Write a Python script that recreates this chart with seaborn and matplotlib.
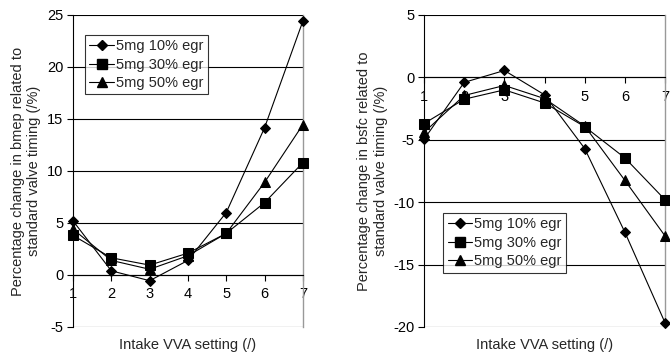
import matplotlib
matplotlib.use("Agg")
import matplotlib.pyplot as plt
import seaborn as sns
import pandas as pd
from matplotlib.lines import Line2D

sns.set_style("white")
plt.rcParams['font.family'] = ['Liberation Sans', 'DejaVu Sans']
plt.rcParams['axes.unicode_minus'] = False

settings = [1, 2, 3, 4, 5, 6, 7]
series_names = ["5mg 10% egr", "5mg 30% egr", "5mg 50% egr"]

bmep_10 = [5.2, 0.4, -0.55, 1.4, 6.0, 14.15, 24.4]
bmep_30 = [3.8, 1.65, 0.95, 2.1, 4.0, 6.95, 10.8]
bmep_50 = [4.4, 1.4, 0.55, 1.85, 4.0, 8.9, 14.45]

bsfc_10 = [-4.95, -0.4, 0.55, -1.4, -5.7, -12.4, -19.65]
bsfc_30 = [-3.7, -1.75, -1.0, -2.05, -3.95, -6.45, -9.8]
bsfc_50 = [-4.4, -1.45, -0.65, -1.7, -3.9, -8.25, -12.7]

ylabels = ["Percentage change in bmep related to\nstandard valve timing (/%)",
           "Percentage change in bsfc related to\nstandard valve timing (/%)"]
xlabel = "Intake VVA setting (/)"

def make_df(vals):
    rows = []
    for name, v in zip(series_names, vals):
        for s, y in zip(settings, v):
            rows.append({"setting": s, "value": y, "series": name})
    return pd.DataFrame(rows)

markers = {series_names[0]: "D", series_names[1]: "s", series_names[2]: "^"}
msizes = {series_names[0]: 5.5, series_names[1]: 7, series_names[2]: 7}

fig = plt.figure(figsize=(6.7, 3.56), dpi=100)
ax1 = fig.add_axes([0.109, 0.0815, 0.343, 0.8765])
ax2 = fig.add_axes([0.633, 0.0815, 0.3595, 0.8765])

FS = 10.5

def draw(ax, vals, ylim, yticks, ylabel, leg_anchor):
    df = make_df(vals)
    for name in series_names:
        sub = df[df.series == name]
        sns.lineplot(data=sub, x="setting", y="value", ax=ax, color="black",
                     marker=markers[name], markersize=msizes[name],
                     markeredgecolor="black", markerfacecolor="black",
                     linewidth=0.8, legend=False, clip_on=False, zorder=3)
    ax.set_xlim(1, 7)
    ax.set_ylim(*ylim)
    ax.set_yticks(yticks)
    ax.set_xticks(settings)
    ax.set_xticklabels([str(s) for s in settings])
    for y in yticks:
        ax.axhline(y, color="black", linewidth=0.8, zorder=1)
    ax.spines['bottom'].set_position(('data', 0))
    ax.spines['bottom'].set_color('black')
    ax.spines['bottom'].set_linewidth(0.8)
    ax.spines['left'].set_color('black')
    ax.spines['left'].set_linewidth(0.8)
    ax.spines['right'].set_color('#999999')
    ax.spines['right'].set_linewidth(1.0)
    ax.spines['top'].set_visible(False)
    ax.tick_params(axis='y', direction='out', length=4, width=0.8, colors='black',
                   labelsize=FS, left=True, pad=3)
    ax.tick_params(axis='x', direction='out', length=4, width=0.8, colors='black',
                   labelsize=FS, bottom=True, pad=5)
    ax.set_xlabel("")
    ax.set_ylabel(ylabel, fontsize=FS, labelpad=4, linespacing=1.2)
    ax.text(0.5, -0.035, xlabel, transform=ax.transAxes, ha='center', va='top', fontsize=FS)
    handles = [Line2D([0], [0], color='black', lw=0.8, marker=markers[n],
                      markersize=msizes[n], markerfacecolor='black', markeredgecolor='black')
               for n in series_names]
    leg = ax.legend(handles, series_names, loc='upper left', bbox_to_anchor=leg_anchor,
                    frameon=True, fancybox=False, fontsize=FS, handlelength=1.7,
                    handletextpad=0.15, borderpad=0.3, labelspacing=0.3,
                    borderaxespad=0)
    leg.get_frame().set_edgecolor('black')
    leg.get_frame().set_linewidth(0.8)
    leg.set_zorder(5)

draw(ax1, [bmep_10, bmep_30, bmep_50], (-5, 25), [-5, 0, 5, 10, 15, 20, 25],
     ylabels[0], (0.052, 0.936))
draw(ax2, [bsfc_10, bsfc_30, bsfc_50], (-20, 5), [-20, -15, -10, -5, 0, 5],
     ylabels[1], (0.079, 0.365))

fig.savefig("out.png", dpi=100)
